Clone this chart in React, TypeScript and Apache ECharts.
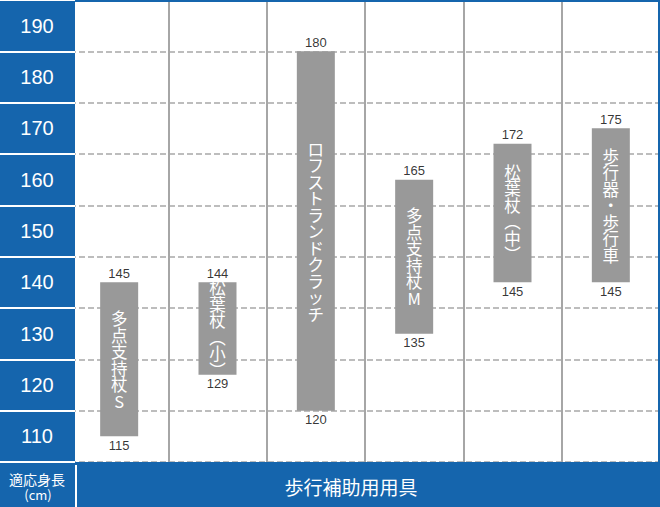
import { useEffect, useRef } from 'react'
import * as echarts from 'echarts'

// 用具名（棒の中に縦書き）
const categories = ['多点支持杖S', '松葉杖(小)', 'ロフストランドクラッチ', '多点支持杖M', '松葉杖(中)', '歩行器・歩行車']
// 棒の描画範囲（図の位置から読んだ値）
const barBottom = [115, 127, 120, 135, 145, 145]
const barTop = [145, 145, 190, 165, 172, 175]
// 棒の上下に書かれた数字
const bottomLabels = ['115', '129', '120', '135', '145', '145']
const topLabels = ['145', '144', '180', '165', '172', '175']
// 左の目盛り（下から）
const heightTicks = ['110', '120', '130', '140', '150', '160', '170', '180', '190']

const BLUE = '#1565ad'
const CJK = '"Noto Sans CJK JP", "Noto Sans", sans-serif'
const NUM = '"Liberation Sans", Arial, sans-serif'

function toVertical(s: string) {
  return s
    .split('')
    .map(c => (c === '(' ? '︵' : c === ')' ? '︶' : c))
    .join('\n')
}

export default function App() {
  const chartRef = useRef<HTMLDivElement>(null)

  useEffect(() => {
    document.body.style.margin = '0'
    if (!chartRef.current) return
    const chart = echarts.init(chartRef.current, null, { renderer: 'svg' })

    const option: any = {
      animation: false,
      grid: { left: 70, right: 0, top: 0, bottom: 45 },
      xAxis: {
        type: 'category',
        data: categories,
        z: 1,
        axisLine: { show: false },
        axisTick: { show: false },
        axisLabel: { show: false },
        splitLine: { show: true, interval: 0, lineStyle: { color: '#a6a6a6', width: 2 } }
      },
      yAxis: [
        {
          type: 'value',
          min: 110,
          max: 200,
          interval: 10,
          z: 1,
          axisLine: { show: false },
          axisTick: { show: false },
          axisLabel: { show: false },
          splitLine: { lineStyle: { type: [6, 3], color: '#a8a8a8', width: 1.6 } }
        },
        {
          type: 'category',
          data: heightTicks,
          position: 'left',
          offset: -5,
          z: 5,
          axisLine: { show: false },
          axisTick: { show: true, interval: 0, length: 75, lineStyle: { color: '#fff', width: 2 } },
          axisLabel: {
            interval: 0,
            color: '#fff',
            fontSize: 20,
            fontFamily: NUM,
            align: 'center',
            margin: 38
          },
          splitLine: { show: false }
        }
      ],
      graphic: {
        elements: [
          { type: 'rect', z: 2, silent: true, shape: { x: 0, y: 0, width: 75, height: 462 }, style: { fill: BLUE } },
          { type: 'rect', z: 2, silent: true, shape: { x: 0, y: 462, width: 660, height: 45 }, style: { fill: BLUE } },
          { type: 'rect', z: 2, silent: true, shape: { x: 0, y: 0, width: 660, height: 2 }, style: { fill: BLUE } },
          { type: 'rect', z: 2, silent: true, shape: { x: 658, y: 0, width: 2, height: 462 }, style: { fill: BLUE } },
          {
            type: 'line',
            z: 3,
            silent: true,
            shape: { x1: 76, y1: 465, x2: 76, y2: 507 },
            style: { stroke: '#fff', lineWidth: 2 }
          },
          {
            type: 'text',
            z: 3,
            style: {
              text: '適応身長',
              x: 37,
              y: 479,
              fill: '#fff',
              font: `14px ${CJK}`,
              textAlign: 'center',
              textVerticalAlign: 'middle'
            }
          },
          {
            type: 'text',
            z: 3,
            style: {
              text: '(cm)',
              x: 38,
              y: 494,
              fill: '#fff',
              font: `13px ${CJK}`,
              textAlign: 'center',
              textVerticalAlign: 'middle'
            }
          },
          {
            type: 'text',
            z: 3,
            style: {
              text: '歩行補助用用具',
              x: 351,
              y: 486,
              fill: '#fff',
              font: `19px ${CJK}`,
              textAlign: 'center',
              textVerticalAlign: 'middle'
            }
          }
        ]
      },
      series: [
        {
          name: 'base',
          type: 'bar',
          stack: 'range',
          barWidth: 38,
          silent: true,
          itemStyle: { color: 'transparent' },
          data: barBottom
        },
        {
          name: 'range',
          type: 'bar',
          stack: 'range',
          barWidth: 38,
          itemStyle: { color: '#999999' },
          label: {
            show: true,
            position: 'inside',
            color: '#fff',
            fontSize: 16.5,
            lineHeight: 16.5,
            fontFamily: CJK,
            formatter: (p: any) => toVertical(categories[p.dataIndex])
          },
          data: barTop.map((v, i) => v - barBottom[i])
        },
        {
          name: 'top',
          type: 'scatter',
          symbolSize: 1,
          silent: true,
          itemStyle: { color: 'transparent' },
          label: {
            show: true,
            position: 'top',
            distance: 2,
            color: '#000',
            fontSize: 13,
            fontFamily: NUM,
            formatter: (p: any) => topLabels[p.dataIndex]
          },
          data: barTop.map((v, i) => [i, v])
        },
        {
          name: 'bottom',
          type: 'scatter',
          symbolSize: 1,
          silent: true,
          itemStyle: { color: 'transparent' },
          label: {
            show: true,
            position: 'bottom',
            distance: 2,
            color: '#000',
            fontSize: 13,
            fontFamily: NUM,
            formatter: (p: any) => bottomLabels[p.dataIndex]
          },
          data: barBottom.map((v, i) => [i, v])
        }
      ]
    }

    chart.setOption(option)

    return () => {
      chart.dispose()
    }
  }, [])

  return <div ref={chartRef} style={{ width: 660, height: 507 }} />
}
